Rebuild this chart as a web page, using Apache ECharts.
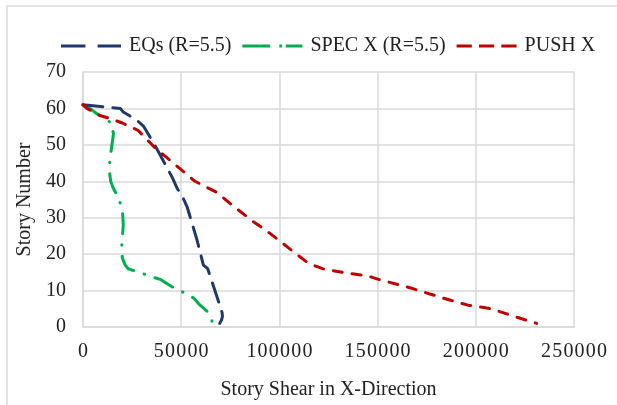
<!DOCTYPE html>
<html>
<head>
<meta charset="utf-8">
<script src="https://cdn.jsdelivr.net/npm/echarts@6/dist/echarts.min.js"></script>
<style>
  html, body { margin: 0; padding: 0; background: #fff; }
  #chart { width: 617px; height: 405px; }
</style>
</head>
<body>
<div id="chart"></div>
<script>
// Story shear profiles in the X direction (story number vs. shear)
const seriesNames = ['EQs (R=5.5)', 'SPEC X (R=5.5)', 'PUSH X'];

const eqsStory = [61, 60, 59, 57, 55, 49, 41, 38, 36, 33, 24, 17, 16, 7, 4, 3, 2, 1];
const eqsShear = [0, 19000, 20500, 27000, 31000, 37500, 45500, 48000, 50500, 53000, 58000, 61300, 63500, 69000, 70800, 71000, 70600, 69600];

const specStory = [61, 60, 58, 56, 53, 46, 43, 40, 38, 35, 31, 28, 22, 19, 17, 16, 14, 13, 11, 10, 8, 6, 4, 2, 1];
const specShear = [0, 3500, 8500, 14500, 15500, 13700, 13400, 14100, 15500, 18500, 20200, 20500, 19700, 20000, 21500, 23000, 34000, 39700, 45500, 49500, 56200, 59600, 63800, 65600, 65700];

const pushStory = [61, 60, 58, 57, 56, 54, 49, 45, 40, 37, 33, 29, 26, 22, 18, 17, 16, 15, 14, 13, 11, 9, 8, 6, 5, 3, 1];
const pushShear = [0, 2000, 9000, 15000, 20000, 28000, 37000, 46000, 57000, 68000, 77000, 86500, 94500, 104000, 113500, 117000, 122000, 132000, 145000, 151000, 165000, 177000, 183000, 196000, 208000, 219000, 231000];

const xTicks = { min: 0, max: 250000, interval: 50000 };
const yTicks = { min: 0, max: 70, interval: 10 };

const pairs = (xs, ys) => xs.map((x, i) => [x, ys[i]]);

const FONT = "'Liberation Serif', 'Times New Roman', serif";
const TEXT = '#222222';
const GRID = '#d9d9d9';
const COLORS = ['#1F3A68', '#00B050', '#C00000'];

// Legend keys drawn as dash patterns (filled bars)
const legendIcons = [
  'path://M0,0h24v3h-24z M36,0h23v3h-23z',
  'path://M0,0h30v3h-30z M40,0h3v3h-3z M47,0h18v3h-18z',
  'path://M0,0h15v3h-15z M22,0h15v3h-15z M44,0h15v3h-15z'
];

// Spaced-out digits for the horizontal tick labels
const spacedDigits = v => String(v).split('').map(c => '{d|' + c + '}').join('');

const chart = echarts.init(document.getElementById('chart'), null, { renderer: 'canvas' });

chart.setOption({
  animation: false,
  backgroundColor: '#ffffff',
  graphic: [{
    type: 'rect',
    shape: { x: 7, y: 6, width: 700, height: 500 },
    style: { fill: 'none', stroke: GRID, lineWidth: 1.5 },
    silent: true,
    z: -1
  }],
  legend: {
    left: 56,
    top: 31,
    itemWidth: 60,
    itemHeight: 20,
    itemGap: 11,
    textStyle: { fontFamily: FONT, fontSize: 20, color: TEXT, padding: [0, 0, 0, 3] },
    data: seriesNames.map((n, i) => ({ name: n, icon: legendIcons[i] }))
  },
  grid: { left: 83, right: 43, top: 72, bottom: 74 },
  xAxis: {
    type: 'value',
    min: xTicks.min, max: xTicks.max, interval: xTicks.interval,
    name: 'Story Shear in X-Direction',
    nameLocation: 'middle',
    nameGap: 53,
    nameTextStyle: { fontFamily: FONT, fontSize: 20, color: TEXT },
    axisLine: { show: true, lineStyle: { color: GRID, width: 1.5 } },
    axisTick: { show: false },
    axisLabel: {
      margin: 15,
      fontFamily: FONT, fontSize: 20, color: TEXT,
      formatter: spacedDigits,
      rich: { d: { fontFamily: FONT, fontSize: 20, color: TEXT, width: 11.2, align: 'center' } }
    },
    splitLine: { show: true, lineStyle: { color: GRID, width: 1.5 } }
  },
  yAxis: {
    type: 'value',
    min: yTicks.min, max: yTicks.max, interval: yTicks.interval,
    name: 'Story Number',
    nameLocation: 'middle',
    nameGap: 43,
    nameTextStyle: { fontFamily: FONT, fontSize: 20, color: TEXT },
    axisLine: { show: true, lineStyle: { color: GRID, width: 1.5 } },
    axisTick: { show: false },
    axisLabel: { margin: 17, fontFamily: FONT, fontSize: 20, color: TEXT },
    splitLine: { show: true, lineStyle: { color: GRID, width: 1.5 } }
  },
  series: [
    {
      name: seriesNames[0],
      type: 'line',
      data: pairs(eqsShear, eqsStory),
      showSymbol: false, symbol: 'none',
      color: COLORS[0],
      lineStyle: { width: 3, color: COLORS[0], type: [20, 10], cap: 'round' },
      z: 3
    },
    {
      name: seriesNames[1],
      type: 'line',
      data: pairs(specShear, specStory),
      showSymbol: false, symbol: 'none',
      color: COLORS[1],
      lineStyle: { width: 3, color: COLORS[1], type: [20, 11, 0.5, 11], cap: 'round' },
      z: 2
    },
    {
      name: seriesNames[2],
      type: 'line',
      data: pairs(pushShear, pushStory),
      showSymbol: false, symbol: 'none',
      color: COLORS[2],
      lineStyle: { width: 3, color: COLORS[2], type: [9, 10], cap: 'round' },
      z: 4
    }
  ]
});
</script>
</body>
</html>
